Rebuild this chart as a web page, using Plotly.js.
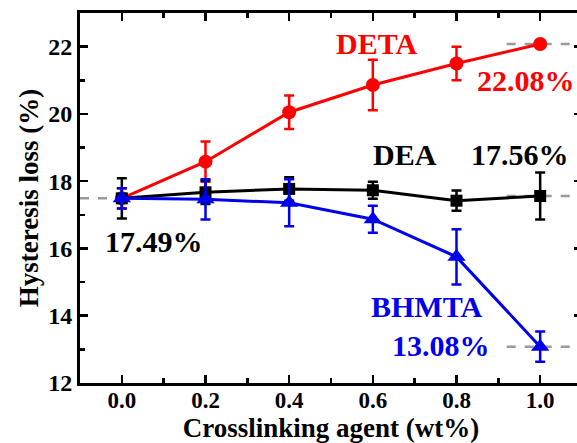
<!DOCTYPE html>
<html>
<head>
<meta charset="utf-8">
<script src="https://cdn.plot.ly/plotly-3.0.1.min.js"></script>
<style>html,body{margin:0;padding:0;overflow:hidden;background:#fff;}</style>
</head>
<body>
<div id="chart"></div>
<script>
const xVals = [0.0, 0.2, 0.4, 0.6, 0.8, 1.0];
const detaY = [17.49, 18.58, 20.05, 20.86, 21.5, 22.08];
const detaErr = [0.3, 0.6, 0.5, 0.75, 0.5, 0.1];
const deaY = [17.49, 17.67, 17.77, 17.73, 17.42, 17.56];
const deaErr = [0.6, 0.35, 0.35, 0.25, 0.3, 0.7];
const bhmtaY = [17.49, 17.46, 17.36, 16.87, 15.75, 13.08];
const bhmtaErr = [0.3, 0.6, 0.7, 0.4, 0.82, 0.45];
const xTickVals = [0, 0.2, 0.4, 0.6, 0.8, 1.0];
const xTickText = ['0.0', '0.2', '0.4', '0.6', '0.8', '1.0'];
const yTickVals = [12, 14, 16, 18, 20, 22];

const serif = '"Liberation Serif", "Times New Roman", Times, serif';

function series(y, err, color, symbol, size) {
  return {
    x: xVals, y: y, type: 'scatter', mode: 'lines+markers',
    line: {color: color, width: 3},
    marker: {color: color, symbol: symbol, size: size},
    error_y: {type: 'data', array: err, visible: true, color: color, thickness: 2.5, width: 5},
    showlegend: false, cliponaxis: false
  };
}

const dashColor = '#9a9a9a';
function dash(x0, x1, y) {
  return {type: 'line', xref: 'x', yref: 'y', x0: x0, x1: x1, y0: y, y1: y,
          line: {color: dashColor, width: 2.5, dash: 'dash'}, layer: 'below'};
}

const data = [
  series(detaY, detaErr, '#ff0000', 'circle', 14),
  series(deaY, deaErr, '#000000', 'square', 12),
  series(bhmtaY, bhmtaErr, '#0000ee', 'triangle-up', 16)
];

function ann(x, y, text, color) {
  return {xref: 'x', yref: 'y', x: x, y: y, text: '<b>' + text + '</b>', showarrow: false,
          font: {family: serif, size: 30, color: color}};
}

const layout = {
  width: 590, height: 443,
  margin: {l: 80, r: 8, t: 13, b: 60},
  paper_bgcolor: '#fff', plot_bgcolor: '#fff',
  font: {family: serif, color: '#000'},
  xaxis: {
    range: [-0.1, 1.1], tickvals: xTickVals, ticktext: xTickText.map(t => '<b>' + t + '</b>'),
    ticks: 'inside', ticklen: 8, tickwidth: 2.5, tickcolor: '#000', ticklabelstandoff: -6,
    minor: {dtick: 0.1, tick0: 0, ticks: 'inside', ticklen: 5, tickwidth: 2.5, tickcolor: '#000'},
    showline: true, linewidth: 3, linecolor: '#000', mirror: 'ticks',
    showgrid: false, zeroline: false,
    tickfont: {family: serif, size: 23, color: '#000'},
    title: {text: '<b>Crosslinking agent (wt%)</b>', font: {family: serif, size: 27, color: '#000'}, standoff: 0}
  },
  yaxis: {
    range: [12, 23], tickvals: yTickVals, ticktext: yTickVals.map(v => '<b>' + v + '</b>'),
    ticks: 'inside', ticklen: 8, tickwidth: 2.5, tickcolor: '#000',
    minor: {dtick: 1, tick0: 0, ticks: 'inside', ticklen: 5, tickwidth: 2.5, tickcolor: '#000'},
    showline: true, linewidth: 3, linecolor: '#000', mirror: 'ticks',
    showgrid: false, zeroline: false,
    tickfont: {family: serif, size: 24, color: '#000'},
    title: {text: '<b>Hysteresis loss (%)</b>', font: {family: serif, size: 27, color: '#000'}, standoff: 2}
  },
  shapes: [
    dash(-0.1, 0.0, 17.49),
    dash(0.92, 1.1, 22.08),
    dash(0.92, 1.1, 17.56),
    dash(0.92, 1.1, 13.08)
  ],
  annotations: [
    ann(0.609, 22.1, 'DETA', '#ff0000'),
    ann(0.966, 21.0, '22.08%', '#ff0000'),
    ann(0.677, 18.8, 'DEA', '#000000'),
    ann(0.952, 18.8, '17.56%', '#000000'),
    ann(0.076, 16.2, '17.49%', '#000000'),
    ann(0.728, 14.26, 'BHMTA', '#0000ee'),
    ann(0.764, 13.12, '13.08%', '#0000ee')
  ]
};

Plotly.newPlot('chart', data, layout, {displayModeBar: false, staticPlot: true});
</script>
</body>
</html>
